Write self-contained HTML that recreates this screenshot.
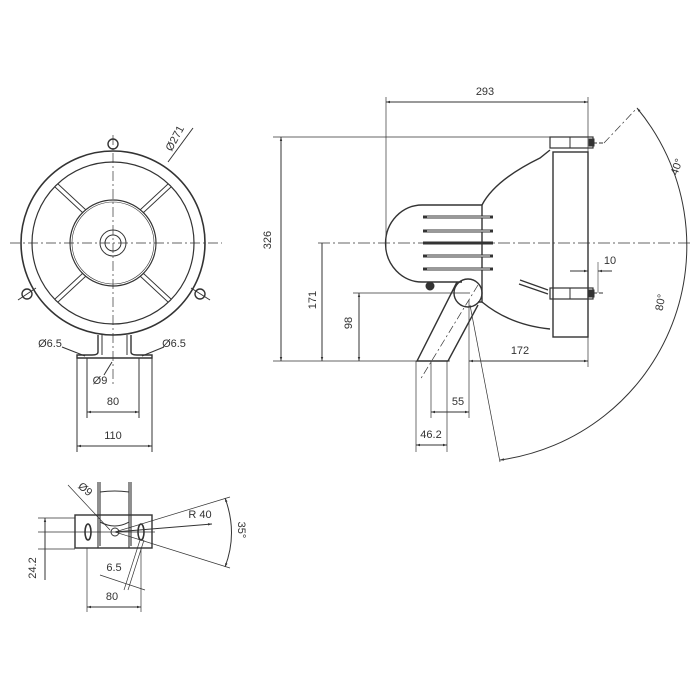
<!DOCTYPE html>
<html><head><style>
html,body{margin:0;padding:0;background:#fff;}
svg{display:block;}
text{font-family:"Liberation Sans",sans-serif;font-size:11px;fill:#333;}
</style></head><body>
<svg width="700" height="700" viewBox="0 0 700 700" xmlns="http://www.w3.org/2000/svg">
<defs>
<marker id="a" viewBox="0 0 10 10" refX="10" refY="5" markerWidth="6" markerHeight="4" orient="auto-start-reverse"><path d="M0,2 L10,5 L0,8 z" fill="#333"/></marker>
</defs>
<g stroke="#333" fill="none" stroke-width="1">
<!-- FRONT VIEW -->
<circle cx="113" cy="243" r="92" stroke-width="1.6"/>
<circle cx="113" cy="243" r="81" stroke-width="1.2"/>
<circle cx="113" cy="243" r="43" stroke-width="1.2"/>
<circle cx="113" cy="243" r="41" stroke-width="0.6"/>
<circle cx="113" cy="243" r="13"/>
<circle cx="113" cy="243" r="8"/>
<g stroke-dasharray="10,3,2,3" stroke-width="0.7">
<line x1="10" y1="243" x2="222" y2="243"/>
<line x1="113" y1="135" x2="113" y2="385"/>
</g>
<g stroke-width="0.9">
<line x1="55" y1="187" x2="83" y2="213"/><line x1="58" y1="184" x2="86" y2="210"/>
<line x1="171" y1="187" x2="143" y2="213"/><line x1="168" y1="184" x2="140" y2="210"/>
<line x1="55" y1="299" x2="83" y2="273"/><line x1="58" y1="302" x2="86" y2="276"/>
<line x1="171" y1="299" x2="143" y2="273"/><line x1="168" y1="302" x2="140" y2="276"/>
</g>
<circle cx="113" cy="144" r="5" stroke-width="1.4"/>
<circle cx="27" cy="294" r="5" stroke-width="1.4"/>
<circle cx="200" cy="294" r="5" stroke-width="1.4"/>
<line x1="18" y1="300" x2="36" y2="288"/><line x1="191" y1="288" x2="210" y2="300"/>
<line x1="168" y1="162" x2="193" y2="128"/>
<!-- bracket -->
<path d="M98,335 V352 Q98,355 92,355 H77 V358 H152 V355 H137 Q131,355 131,352 V335" stroke-width="1.4"/>
<path d="M102,335 V355 M127,335 V355"/>
<line x1="77" y1="358" x2="77" y2="452"/><line x1="152" y1="358" x2="152" y2="452"/>
<line x1="87" y1="358" x2="87" y2="418"/><line x1="139" y1="358" x2="139" y2="418"/>
<line x1="87" y1="412" x2="139" y2="412" marker-start="url(#a)" marker-end="url(#a)"/>
<line x1="77" y1="446" x2="152" y2="446" marker-start="url(#a)" marker-end="url(#a)"/>
<line x1="62" y1="347" x2="85" y2="356"/><line x1="164" y1="347" x2="142" y2="356"/>
<line x1="104" y1="375" x2="112" y2="362"/>

<!-- SIDE VIEW -->
<line x1="386" y1="97" x2="386" y2="248" stroke-width="0.7"/>
<line x1="588" y1="97" x2="588" y2="367" stroke-width="0.7"/>
<line x1="386" y1="102" x2="588" y2="102" marker-start="url(#a)" marker-end="url(#a)"/>
<line x1="273" y1="137" x2="555" y2="137" stroke-width="0.7"/>
<line x1="273" y1="361" x2="450" y2="361" stroke-width="0.7"/>
<line x1="281" y1="137" x2="281" y2="361" marker-start="url(#a)" marker-end="url(#a)"/>
<line x1="318" y1="243" x2="690" y2="243" stroke-dasharray="12,3,2,3" stroke-width="0.7"/>
<line x1="322" y1="243" x2="322" y2="361" marker-end="url(#a)"/>
<line x1="353" y1="293" x2="470" y2="293" stroke-width="0.7"/>
<line x1="359" y1="293" x2="359" y2="361" marker-start="url(#a)" marker-end="url(#a)"/>
<!-- lamp -->
<rect x="553" y="152" width="35" height="185" stroke-width="1.4"/>
<rect x="550" y="137" width="43" height="11" stroke-width="1.2"/>
<line x1="570" y1="137" x2="570" y2="148"/>
<rect x="589" y="139" width="5" height="7" fill="#333"/>
<rect x="550" y="288" width="43" height="11" stroke-width="1.2"/>
<line x1="570" y1="288" x2="570" y2="299"/>
<rect x="589" y="290" width="5" height="7" fill="#333"/>
<line x1="593" y1="143" x2="604" y2="143" stroke-dasharray="4,2"/>
<line x1="593" y1="293" x2="604" y2="293" stroke-dasharray="4,2"/>
<path d="M550,150 L540,158 Q495,180 482,205" stroke-width="1.4"/>
<path d="M482,302 Q510,325 550,329" stroke-width="1.4"/>
<path d="M422,205 H482 V302 H478 M422,282 H462" stroke-width="1.4"/>
<path d="M422,205 A36,38 0 0 0 422,282" stroke-width="1.4"/>
<g stroke-width="3">
<line x1="423" y1="217" x2="493" y2="217"/>
<line x1="423" y1="231" x2="493" y2="231"/>
<line x1="423" y1="243" x2="493" y2="243"/>
<line x1="423" y1="256" x2="493" y2="256"/>
<line x1="423" y1="269" x2="493" y2="269"/>
</g>
<g stroke="#fff" stroke-width="1"><line x1="427" y1="217" x2="490" y2="217"/><line x1="427" y1="231" x2="490" y2="231"/><line x1="427" y1="256" x2="490" y2="256"/><line x1="427" y1="269" x2="490" y2="269"/></g>
<circle cx="430" cy="286" r="4" fill="#333"/>
<path d="M520,280 L548,290 M519,284 L548,294" stroke-width="1.2"/>
<circle cx="468" cy="293" r="14" stroke-width="1.4"/>
<path d="M457,282 L417,361 H448 L478,305" stroke-width="1.4"/>
<line x1="478" y1="285" x2="420" y2="380" stroke-dasharray="8,3,2,3" stroke-width="0.7"/>
<line x1="570" y1="271" x2="588" y2="271" marker-end="url(#a)"/>
<line x1="612" y1="271" x2="598" y2="271" marker-end="url(#a)"/>
<line x1="598" y1="262" x2="598" y2="293" stroke-width="0.6"/>
<line x1="469" y1="300" x2="469" y2="418" stroke-width="0.7"/>
<line x1="469" y1="361" x2="588" y2="361" marker-start="url(#a)" marker-end="url(#a)"/>
<line x1="431" y1="361" x2="431" y2="418" stroke-width="0.7"/>
<line x1="431" y1="412" x2="469" y2="412" marker-start="url(#a)" marker-end="url(#a)"/>
<line x1="416" y1="361" x2="416" y2="452" stroke-width="0.7"/>
<line x1="447" y1="361" x2="447" y2="452" stroke-width="0.7"/>
<line x1="416" y1="445" x2="447" y2="445" marker-start="url(#a)" marker-end="url(#a)"/>
<!-- angle -->
<path d="M637,108 A216,216 0 0 1 500,460" marker-start="url(#a)" marker-end="url(#a)"/>
<line x1="604" y1="143" x2="637" y2="108" stroke-dasharray="8,3,2,3" stroke-width="0.7"/>
<line x1="470" y1="305" x2="500" y2="462" stroke-width="0.7"/>

<!-- BOTTOM VIEW -->
<rect x="75" y="515" width="77" height="33" stroke-width="1.4"/>
<path d="M98,482 V548 M100,482 V546 M129,482 V548 M131,482 V546" stroke-width="1.1"/>
<path d="M100,492 Q115,490 129,492 M100,522 Q115,530 129,522" />
<ellipse cx="88" cy="532" rx="3" ry="8" stroke-width="1.6"/>
<ellipse cx="141" cy="532" rx="3" ry="8" stroke-width="1.6"/>
<line x1="38" y1="532" x2="155" y2="532" stroke-width="0.7"/>
<line x1="38" y1="518" x2="75" y2="518" stroke-width="0.7"/>
<line x1="38" y1="549" x2="75" y2="549" stroke-width="0.7"/>
<line x1="45" y1="518" x2="45" y2="580" marker-start="url(#a)"/>
<line x1="115" y1="532" x2="230" y2="497" stroke-width="0.7"/>
<line x1="115" y1="532" x2="230" y2="568" stroke-width="0.7"/>
<line x1="115" y1="532" x2="212" y2="524" marker-end="url(#a)"/>
<path d="M225,498 Q238,533 225,567" marker-start="url(#a)" marker-end="url(#a)"/>
<line x1="68" y1="485" x2="110" y2="530" stroke-width="0.7"/>
<circle cx="115" cy="532" r="4"/>
<line x1="87" y1="548" x2="87" y2="612" stroke-width="0.7"/>
<line x1="141" y1="548" x2="141" y2="612" stroke-width="0.7"/>
<line x1="87" y1="607" x2="141" y2="607" marker-start="url(#a)" marker-end="url(#a)"/>
<line x1="140" y1="540" x2="124" y2="590" stroke-width="0.7"/>
<line x1="144" y1="540" x2="128" y2="590" stroke-width="0.7"/>
<line x1="100" y1="575" x2="145" y2="590" stroke-width="0.7"/>
</g>

<!-- TEXT -->
<text x="178" y="140" transform="rotate(-62 178 140)" text-anchor="middle">Ø271</text>
<text x="50" y="347" text-anchor="middle">Ø6.5</text>
<text x="174" y="347" text-anchor="middle">Ø6.5</text>
<text x="100" y="384" text-anchor="middle">Ø9</text>
<text x="113" y="405" text-anchor="middle">80</text>
<text x="113" y="439" text-anchor="middle">110</text>
<text x="485" y="95" text-anchor="middle">293</text>
<text x="271" y="240" transform="rotate(-90 271 240)" text-anchor="middle">326</text>
<text x="316" y="300" transform="rotate(-90 316 300)" text-anchor="middle">171</text>
<text x="352" y="323" transform="rotate(-90 352 323)" text-anchor="middle">98</text>
<text x="520" y="354" text-anchor="middle">172</text>
<text x="458" y="405" text-anchor="middle">55</text>
<text x="431" y="438" text-anchor="middle">46.2</text>
<text x="610" y="264" text-anchor="middle">10</text>
<text x="680" y="168" transform="rotate(-70 680 168)" text-anchor="middle">40°</text>
<text x="664" y="303" transform="rotate(-80 664 303)" text-anchor="middle">80°</text>
<text x="83" y="492" transform="rotate(40 83 492)" text-anchor="middle">Ø9</text>
<text x="200" y="518" text-anchor="middle">R 40</text>
<text x="238" y="530" transform="rotate(90 238 530)" text-anchor="middle">35°</text>
<text x="36" y="568" transform="rotate(-90 36 568)" text-anchor="middle">24.2</text>
<text x="114" y="571" text-anchor="middle">6.5</text>
<text x="112" y="600" text-anchor="middle">80</text>
</svg>
</body></html>
